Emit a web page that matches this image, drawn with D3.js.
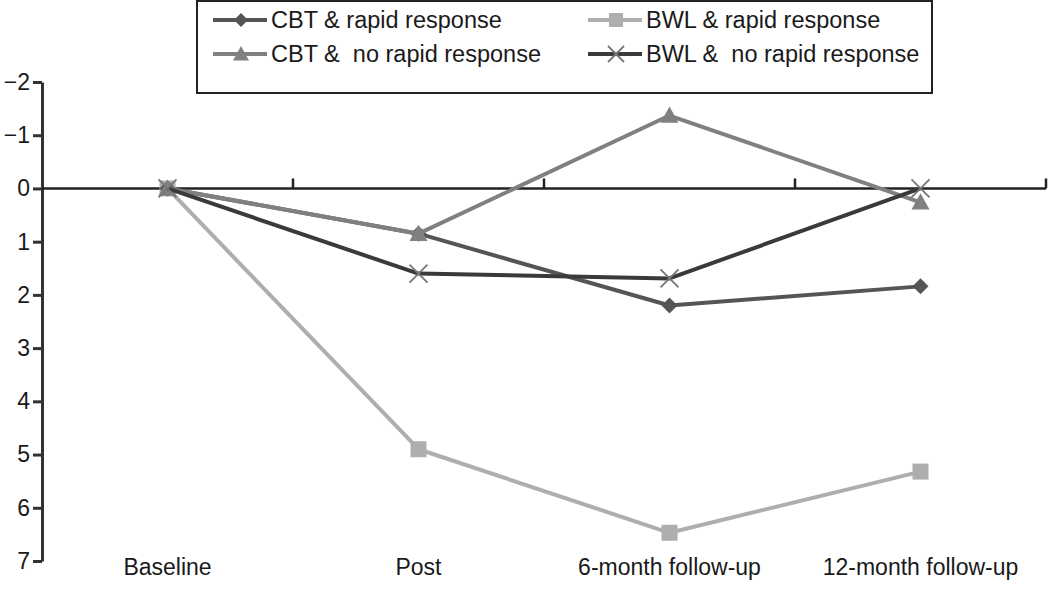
<!DOCTYPE html>
<html>
<head>
<meta charset="utf-8">
<script src="https://cdnjs.cloudflare.com/ajax/libs/d3/7.8.5/d3.min.js"></script>
<style>
  body { margin: 0; background: #fff; }
  text { font-family: "Liberation Sans", Arial, sans-serif; fill: #1a1a1a; }
</style>
</head>
<body>
<div class="chart"></div>
<script>
// data
var categories = ["Baseline", "Post", "6-month follow-up", "12-month follow-up"];
var seriesNames = ["CBT & rapid response", "BWL & rapid response", "CBT &  no rapid response", "BWL &  no rapid response"];
var cbtRapid = [0, 0.85, 2.2, 1.84];
var bwlRapid = [0, 4.9, 6.47, 5.32];
var cbtNoRapid = [0, 0.85, -1.37, 0.26];
var bwlNoRapid = [0, 1.6, 1.69, 0];
var yTicks = [-2, -1, 0, 1, 2, 3, 4, 5, 6, 7];

var series = [
  { name: seriesNames[0], values: cbtRapid, color: "#555555", marker: "diamond" },
  { name: seriesNames[1], values: bwlRapid, color: "#aeaeae", marker: "square" },
  { name: seriesNames[2], values: cbtNoRapid, color: "#808080", marker: "triangle" },
  { name: seriesNames[3], values: bwlNoRapid, color: "#3a3a3a", marker: "cross" }
];
var drawOrder = [1, 0, 2, 3];

var width = 1050, height = 608;
var svg = d3.select(".chart").append("svg")
    .attr("width", width)
    .attr("height", height);

var x = d3.scaleBand()
    .domain(categories)
    .range([42, 1046])
    .paddingInner(0)
    .paddingOuter(0);

var y = d3.scaleLinear()
    .domain([-2, 7])
    .range([82, 561]);

// y axis
var yAxis = svg.append("g")
    .attr("transform", "translate(42,0)")
    .call(d3.axisLeft(y).tickValues(yTicks).tickSize(9).tickPadding(3).tickSizeOuter(0));
yAxis.select(".domain").attr("stroke", "#333").attr("stroke-width", 3);
yAxis.selectAll(".tick line").attr("stroke", "#333").attr("stroke-width", 3);
yAxis.selectAll(".tick text").style("font-size", "23px").attr("fill", "#1a1a1a");

// zero line with category divider ticks
svg.append("line")
    .attr("x1", 42).attr("x2", 1046)
    .attr("y1", y(0)).attr("y2", y(0))
    .attr("stroke", "#222").attr("stroke-width", 2.5);

svg.selectAll(".divTick")
    .data(categories)
    .enter()
        .append("line")
        .attr("class", "divTick")
        .attr("x1", function(d) { return x(d) + x.bandwidth(); })
        .attr("x2", function(d) { return x(d) + x.bandwidth(); })
        .attr("y1", y(0))
        .attr("y2", y(0) - 10)
        .attr("stroke", "#222")
        .attr("stroke-width", 2.5);

// category labels under the plot
svg.selectAll(".catLabel")
    .data(categories)
    .enter()
        .append("text")
        .attr("class", "catLabel")
        .attr("x", function(d) { return x(d) + x.bandwidth() / 2; })
        .attr("y", 575)
        .attr("text-anchor", "middle")
        .style("font-size", "23px")
        .text(function(d) { return d; });

function cx(i) { return x(categories[i]) + x.bandwidth() / 2; }

function drawMarker(g, type, color, px, py, s) {
  if (type === "diamond") {
    g.append("path")
      .attr("d", "M" + px + "," + (py - s) + "L" + (px + s) + "," + py + "L" + px + "," + (py + s) + "L" + (px - s) + "," + py + "Z")
      .attr("fill", color);
  } else if (type === "square") {
    g.append("rect")
      .attr("x", px - s).attr("y", py - s)
      .attr("width", 2 * s).attr("height", 2 * s)
      .attr("fill", color);
  } else if (type === "triangle") {
    g.append("path")
      .attr("d", "M" + px + "," + (py - s) + "L" + (px + s) + "," + (py + s * 0.8) + "L" + (px - s) + "," + (py + s * 0.8) + "Z")
      .attr("fill", color);
  } else {
    g.append("path")
      .attr("d", "M" + (px - s) + "," + (py - s) + "L" + (px + s) + "," + (py + s) + "M" + (px + s) + "," + (py - s) + "L" + (px - s) + "," + (py + s))
      .attr("stroke", "#777").attr("stroke-width", 1.8).attr("fill", "none");
  }
}

var line = d3.line()
    .x(function(d, i) { return cx(i); })
    .y(function(d) { return y(d); });

var markerSize = { diamond: 8, square: 8, triangle: 9, cross: 9 };

drawOrder.forEach(function(k) {
  var s = series[k];
  var g = svg.append("g");
  g.append("path")
      .datum(s.values)
      .attr("d", line)
      .attr("fill", "none")
      .attr("stroke", s.color)
      .attr("stroke-width", 4)
      .attr("stroke-linejoin", "round");
  s.values.forEach(function(v, i) {
    drawMarker(g, s.marker, s.color, cx(i), y(v), markerSize[s.marker]);
  });
});

// legend
var legend = svg.append("g");
legend.append("rect")
    .attr("x", 197).attr("y", 1)
    .attr("width", 735).attr("height", 92)
    .attr("fill", "#fff")
    .attr("stroke", "#222")
    .attr("stroke-width", 2);

var legendPos = [[213, 20], [588, 20], [213, 54], [588, 54]];
series.forEach(function(s, k) {
  var p = legendPos[k];
  legend.append("line")
      .attr("x1", p[0]).attr("x2", p[0] + 54)
      .attr("y1", p[1]).attr("y2", p[1])
      .attr("stroke", s.color).attr("stroke-width", 4);
  drawMarker(legend, s.marker, s.color, p[0] + 28, p[1], markerSize[s.marker] - 1);
  legend.append("text")
      .attr("x", p[0] + 58)
      .attr("y", p[1] + 8)
      .style("font-size", "23.5px")
      .style("white-space", "pre")
      .attr("xml:space", "preserve")
      .text(s.name);
});
</script>
</body>
</html>
